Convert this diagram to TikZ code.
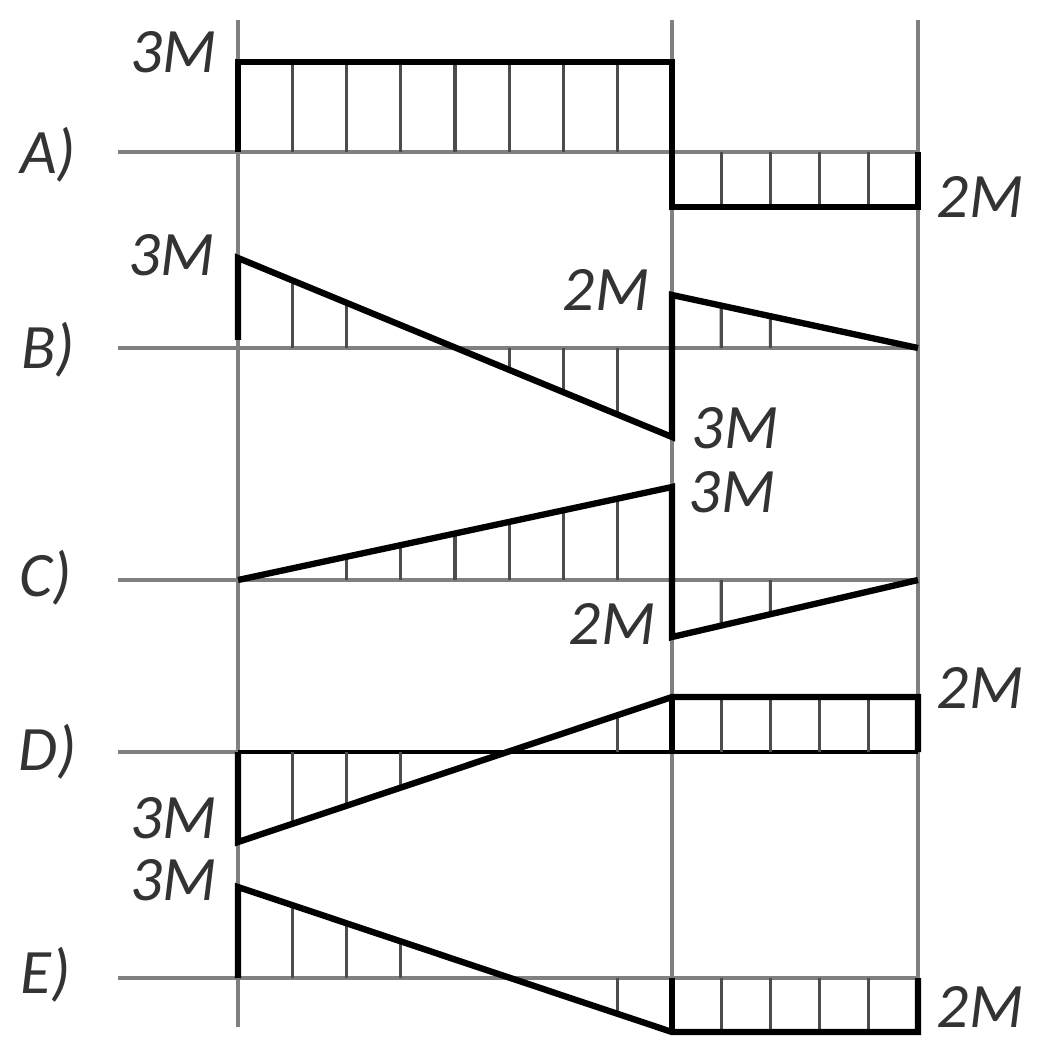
\documentclass[tikz,border=0pt]{standalone}
\usepackage{fontspec}
\setmainfont{Carlito}
\usetikzlibrary{calc}

\begin{document}
\begin{tikzpicture}[x=0.01cm, y=-0.01cm,
    axis/.style={gray, line width=0.9pt},
    hatch/.style={black!70, line width=0.9pt},
    diag/.style={black, line width=1.8pt, line join=miter},
    lbl/.style={font=\fontsize{18}{20}\selectfont\itshape, text=black!80, inner sep=0pt}]
    \useasboundingbox (0,0) rectangle (1038,1043);

    % grid lines
    \draw[axis] (238,20) -- (238,1027);
    \draw[axis] (672,20) -- (672,1032);
    \draw[axis] (918,20) -- (918,1032);
    \foreach \y in {152,348,580,752,978}
        \draw[axis] (118,\y) -- (918,\y);

    % A
    \foreach \k in {1,...,7}
        \draw[hatch] ({238+54.25*\k},152) -- ({238+54.25*\k},62);
    \foreach \k in {1,...,4}
        \draw[hatch] ({672+49.2*\k},152) -- ({672+49.2*\k},207);
    \draw[diag] (238,152) -- (238,62) -- (672,62) -- (672,207) -- (918,207) -- (918,152);

    % B
    \coordinate (b0) at (238,258);
    \coordinate (b1) at (672,437);
    \coordinate (b2) at (672,295);
    \coordinate (b3) at (918,348);
    \foreach \k in {1,2,5,6,7}
        \draw[hatch] ({238+54.25*\k},348) -- ($(b0)!{54.25*\k/434}!(b1)$);
    \foreach \k in {1,2}
        \draw[hatch] ({672+49.2*\k},348) -- ($(b2)!{49.2*\k/246}!(b3)$);
    \draw[diag] (238,340) -- (b0) -- (b1) -- (b2) -- (b3);

    % C
    \coordinate (c0) at (238,580);
    \coordinate (c1) at (672,487);
    \coordinate (c2) at (672,637);
    \coordinate (c3) at (918,580);
    \foreach \k in {2,...,7}
        \draw[hatch] ({238+54.25*\k},580) -- ($(c0)!{54.25*\k/434}!(c1)$);
    \foreach \k in {1,2}
        \draw[hatch] ({672+49.2*\k},580) -- ($(c2)!{49.2*\k/246}!(c3)$);
    \draw[diag] (c0) -- (c1) -- (c2) -- (c3);

    % D
    \coordinate (d0) at (238,842);
    \coordinate (d1) at (672,697);
    \coordinate (d2) at (918,697);
    \coordinate (d3) at (918,752);
    \draw[black, line width=1.1pt] (238,752) -- (918,752);
    \foreach \k in {1,2,3,7}
        \draw[hatch] ({238+54.25*\k},752) -- ($(d0)!{54.25*\k/434}!(d1)$);
    \foreach \k in {1,...,4}
        \draw[hatch] ({672+49.2*\k},752) -- ({672+49.2*\k},697);
    \draw[diag] (238,752) -- (d0) -- (d1) -- (d2) -- (d3);
    \draw[diag] (d1) -- (672,752);

    % E
    \coordinate (e0) at (238,887);
    \coordinate (e1) at (672,1032);
    \coordinate (e2) at (918,1032);
    \coordinate (e3) at (918,978);
    \foreach \k in {1,2,3,7}
        \draw[hatch] ({238+54.25*\k},978) -- ($(e0)!{54.25*\k/434}!(e1)$);
    \foreach \k in {1,...,4}
        \draw[hatch] ({672+49.2*\k},978) -- ({672+49.2*\k},1032);
    \draw[diag] (238,978) -- (e0) -- (e1) -- (e2) -- (e3);
    \draw[diag] (e1) -- (672,978);

    % row labels
    \node[lbl] (rowA) at (48,155) {A)};
    \node[lbl] (rowB) at (48,350) {B)};
    \node[lbl] (rowC) at (46,578) {C)};
    \node[lbl] (rowD) at (48,752) {D)};
    \node[lbl] (rowE) at (46,975) {E)};

    % values
    \node[lbl] (valA1) at (174,52) {3M};
    \node[lbl] (valA2) at (980,197) {2M};
    \node[lbl] (valB1) at (172,255) {3M};
    \node[lbl] (valB2) at (606,290) {2M};
    \node[lbl] (valB3) at (735,428) {3M};
    \node[lbl] (valC1) at (732,492) {3M};
    \node[lbl] (valC2) at (612,624) {2M};
    \node[lbl] (valD1) at (980,688) {2M};
    \node[lbl] (valD2) at (174,818) {3M};
    \node[lbl] (valE1) at (174,880) {3M};
    \node[lbl] (valE2) at (980,1007) {2M};
\end{tikzpicture}
\end{document}
